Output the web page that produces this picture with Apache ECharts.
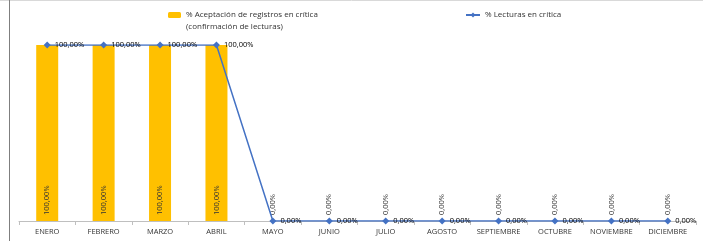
<!DOCTYPE html>
<html><head><meta charset="utf-8">
<script src="https://cdn.jsdelivr.net/npm/echarts@6/dist/echarts.min.js"></script>
<style>html,body{margin:0;padding:0;background:#fff}#c{width:703px;height:241px}</style>
</head><body><div id="c"></div>
<script>
var categories = ['ENERO','FEBRERO','MARZO','ABRIL','MAYO','JUNIO','JULIO','AGOSTO','SEPTIEMBRE','OCTUBRE','NOVIEMBRE','DICIEMBRE'];
var aceptacion = [100,100,100,100,0,0,0,0,0,0,0,0];
var lecturas = [100,100,100,100,0,0,0,0,0,0,0,0];
var barName = '% Aceptación de registros en crítica';
var barName2 = '(confirmación de lecturas)';
var lineName = '% Lecturas en crítica';

function fmt(v){ return v.toFixed(2).replace('.', ',') + '%'; }
var font = 'Open Sans';
var chart = echarts.init(document.getElementById('c'));
chart.setOption({
  animation:false,
  textStyle:{fontFamily:font},
  graphic:[
    {type:'line', shape:{x1:0,y1:0.5,x2:703,y2:0.5}, style:{stroke:'#d9d9d9',lineWidth:1}},
    {type:'line', shape:{x1:9.5,y1:0,x2:9.5,y2:241}, style:{stroke:'#7f7f7f',lineWidth:1}},
    {type:'text', left:186, top:23, style:{text:barName2, fontSize:8, fill:'#333333', fontFamily:font}}
  ],
  legend:[
    {data:[barName], left:168, top:11, padding:0, itemWidth:13, itemHeight:6,
     textStyle:{fontSize:8, color:'#333333', fontFamily:font}},
    {data:[lineName], left:465, top:11, padding:0, itemWidth:14, itemHeight:6,
     textStyle:{fontSize:8, color:'#333333', fontFamily:font}}
  ],
  grid:{left:19, right:7, top:45, bottom:20},
  xAxis:{type:'category', data:categories,
    axisLine:{lineStyle:{color:'#bfbfbf'}},
    axisTick:{show:true, length:4, lineStyle:{color:'#bfbfbf'}},
    axisLabel:{interval:0, fontSize:7.5, color:'#333333', margin:7, fontFamily:font}},
  yAxis:{type:'value', min:0, max:100, show:false},
  series:[
    {name:barName, type:'bar', data:aceptacion, barWidth:'39%',
     itemStyle:{color:'#FFC000'},
     label:{show:true, position:'insideBottom', rotate:90, align:'left', verticalAlign:'middle', distance:6,
       fontSize:7.5, color:'#333333', fontFamily:font, formatter:function(p){return fmt(p.value);}}},
    {name:lineName, type:'line', data:lecturas, symbol:'diamond', symbolSize:7,
     lineStyle:{color:'#4472C4', width:1.5}, itemStyle:{color:'#4472C4'},
     label:{show:true, position:'right', distance:4, fontSize:7.5, color:'#000', fontFamily:font,
       formatter:function(p){return fmt(p.value);}}}
  ]
});
</script></body></html>
